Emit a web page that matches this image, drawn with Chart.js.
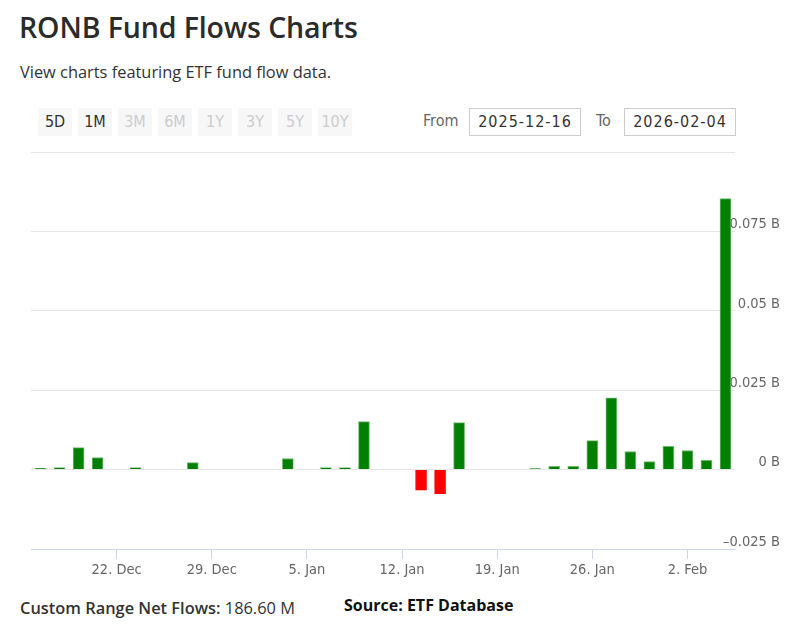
<!DOCTYPE html>
<html>
<head>
<meta charset="utf-8">
<script src="https://cdn.jsdelivr.net/npm/chart.js@4"></script>
<style>
  html, body { margin: 0; padding: 0; background: #fff; width: 800px; height: 636px; overflow: hidden; }
  body { position: relative; font-family: "Open Sans", sans-serif; }
  #title { position: absolute; left: 19px; top: 8px; font-size: 28.5px; font-weight: 600; color: #2b2b2b; font-family: "Open Sans", sans-serif; letter-spacing: -0.1px; }
  #sub { position: absolute; left: 20px; top: 60px; font-size: 16.4px; color: #333; }
  .btn { position: absolute; top: 108px; width: 34px; height: 28px; background: #f7f7f7; border-radius: 2px; font-family: "DejaVu Sans Condensed", sans-serif; font-size: 16px; line-height: 28px; text-align: center; color: #ccc; }
  .btn.on { color: #333; }
  .lbl { position: absolute; top: 111px; font-family: "DejaVu Sans Condensed", sans-serif; font-size: 16px; color: #666; }
  .inp { position: absolute; top: 108px; width: 110px; height: 26px; border: 1px solid #ccc; font-family: "DejaVu Sans Condensed", sans-serif; font-size: 16px; letter-spacing: 1px; line-height: 26px; text-align: center; color: #333; }
  #chartWrap { position: absolute; left: 0; top: 140px; width: 800px; height: 440px; }
  #net { position: absolute; left: 20px; top: 596px; font-size: 16.4px; color: #333; }
  #net b { font-weight: 600; }
  #src { position: absolute; left: 344px; top: 594px; font-size: 16px; font-weight: 700; color: #111; font-family: "Open Sans", sans-serif; }
</style>
</head>
<body>
<div id="title">RONB Fund Flows Charts</div>
<div id="sub">View charts featuring ETF fund flow data.</div>
<div class="btn on" style="left:38px">5D</div>
<div class="btn on" style="left:78px">1M</div>
<div class="btn" style="left:118px">3M</div>
<div class="btn" style="left:158px">6M</div>
<div class="btn" style="left:198px">1Y</div>
<div class="btn" style="left:238px">3Y</div>
<div class="btn" style="left:278px">5Y</div>
<div class="btn" style="left:318px">10Y</div>
<div class="lbl" style="left:423px">From</div>
<div class="inp" style="left:469px">2025-12-16</div>
<div class="lbl" style="left:596px">To</div>
<div class="inp" style="left:624px">2026-02-04</div>
<div id="chartWrap"><canvas id="c"></canvas></div>
<div id="net"><b>Custom Range Net Flows:</b> 186.60 M</div>
<div id="src">Source: ETF Database</div>
<script>
// Weekdays 2025-12-16 .. 2026-02-04
const dates = [
  '16. Dec','17. Dec','18. Dec','19. Dec',
  '22. Dec','23. Dec','24. Dec','25. Dec','26. Dec',
  '29. Dec','30. Dec','31. Dec','1. Jan','2. Jan',
  '5. Jan','6. Jan','7. Jan','8. Jan','9. Jan',
  '12. Jan','13. Jan','14. Jan','15. Jan','16. Jan',
  '19. Jan','20. Jan','21. Jan','22. Jan','23. Jan',
  '26. Jan','27. Jan','28. Jan','29. Jan','30. Jan',
  '2. Feb','3. Feb','4. Feb'
];
// Net flows in billions USD
const flows = [
  0.0004, 0.0006, 0.0069, 0.0038,
  0, 0.0006, 0, 0, 0.0022,
  0, 0, 0, 0, 0.0035,
  0, 0.0006, 0.0006, 0.0151, 0,
  0, -0.0065, -0.0076, 0.0148, 0,
  0, 0, 0.0003, 0.001, 0.001,
  0.0091, 0.0226, 0.0057, 0.0025, 0.0073,
  0.006, 0.0029, 0.0853
];
const xTickLabels = ['22. Dec','29. Dec','5. Jan','12. Jan','19. Jan','26. Jan','2. Feb'];
const yTicks = [-0.025, 0, 0.025, 0.05, 0.075, 0.1];
const yTickLabels = ['\u20130.025 B','0 B','0.025 B','0.05 B','0.075 B',''];

const posColor = '#008000', negColor = '#ff0000';
const posBorder = '#70b870', negBorder = '#ff7a7a';

new Chart(document.getElementById('c'), {
  type: 'bar',
  data: {
    labels: dates,
    datasets: [{
      data: flows,
      backgroundColor: flows.map(v => v < 0 ? negColor : posColor),
      borderColor: flows.map(v => v < 0 ? negColor : posBorder),
      borderWidth: 1,
      barThickness: 11,
      borderSkipped: 'bottom'
    }]
  },
  options: {
    responsive: true,
    maintainAspectRatio: false,
    animation: false,
    layout: { padding: { left: 31, right: 20, top: 12, bottom: 0 } },
    plugins: { legend: { display: false }, tooltip: { enabled: false } },
    scales: {
      x: {
        offset: true,
        grid: { display: true, offset: false, drawOnChartArea: false, drawTicks: true, tickLength: 10, color: '#ccd6eb' },
        border: { display: true, color: '#ccd6eb', width: 1 },
        ticks: {
          autoSkip: false, maxRotation: 0, padding: 3,
          color: '#666', font: { family: 'DejaVu Sans Condensed', size: 14.5 },
          callback: function(v, i) { const l = dates[i]; return xTickLabels.includes(l) ? l : null; }
        },
        afterFit: s => { s.height = 31; }
      },
      y: {
        position: 'right',
        min: -0.025, max: 0.1,
        afterBuildTicks: s => { s.ticks = yTicks.map(v => ({ value: v })); },
        grid: { color: '#e6e6e6', drawTicks: false },
        border: { display: false },
        ticks: {
          crossAlign: 'far', padding: 0, labelOffset: -7,
          color: '#666', font: { family: 'DejaVu Sans Condensed', size: 14.5 },
          callback: function(v) { const i = yTicks.indexOf(v); return i >= 0 ? yTickLabels[i] : ''; }
        },
        afterFit: s => { s.width = 45; s._computeLabelArea = function() { return undefined; }; }
      }
    }
  }
});
</script>
</body>
</html>
